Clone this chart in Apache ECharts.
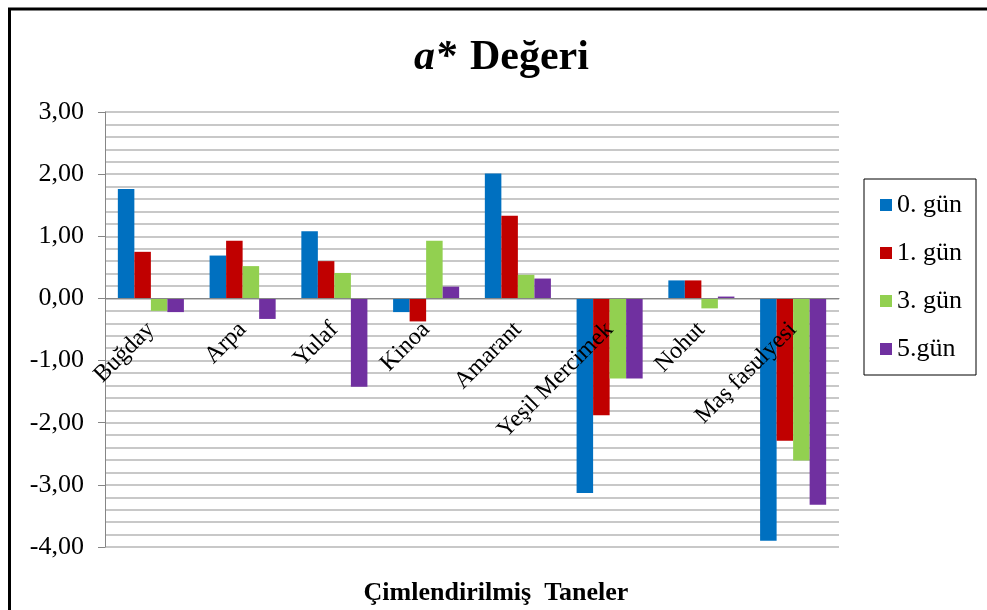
<!DOCTYPE html>
<html>
<head>
<meta charset="utf-8">
<script src="https://cdn.jsdelivr.net/npm/echarts@6/dist/echarts.min.js"></script>
<style>
  html, body { margin: 0; padding: 0; background: #fff; }
  #chart { width: 987px; height: 610px; }
</style>
</head>
<body>
<div id="chart"></div>
<script>
// a* değeri, çimlendirilmiş taneler
var categories = ['Buğday', 'Arpa', 'Yulaf', 'Kinoa', 'Amarant', 'Yeşil Mercimek', 'Nohut', 'Maş fasulyesi']
var gun0 = [1.76, 0.69, 1.08, -0.22, 2.01, -3.13, 0.29, -3.90]
var gun1 = [0.75, 0.93, 0.60, -0.37, 1.33, -1.88, 0.29, -2.29]
var gun3 = [-0.20, 0.52, 0.41, 0.93, 0.38, -1.29, -0.16, -2.61]
var gun5 = [-0.22, -0.33, -1.42, 0.19, 0.32, -1.29, 0.03, -3.32]
var seriesNames = ['0. gün', '1. gün', '3. gün', '5.gün']
var colors = ['#0070C0', '#C00000', '#92D050', '#7030A0']

var serif = "'Liberation Serif', 'Times New Roman', serif"
var chart = echarts.init(document.getElementById('chart'))

function barSeries(name, data, i) {
  return {
    name: name,
    type: 'bar',
    data: data,
    barGap: '0%',
    barCategoryGap: '28%',
    itemStyle: { color: colors[i] }
  }
}

chart.setOption({
  animation: false,
  backgroundColor: '#fff',
  title: [
    {
      text: '{i|a*}{b|Değeri}',
      left: 409,
      top: 32,
      textStyle: {
        rich: {
          i: { fontFamily: serif, fontSize: 42, fontStyle: 'italic', fontWeight: 'bold', color: '#000' },
          b: { fontFamily: serif, fontSize: 42, fontWeight: 'bold', color: '#000', padding: [0, 0, 0, 14] }
        }
      }
    },
    {
      text: 'Çimlendirilmiş  Taneler',
      left: 491,
      textAlign: 'center',
      top: 575,
      textStyle: { fontFamily: serif, fontSize: 26, fontWeight: 'bold', color: '#000' }
    }
  ],
  legend: {
    orient: 'vertical',
    left: 864,
    top: 179,
    padding: [13, 14, 13, 16],
    itemGap: 22,
    itemWidth: 12,
    itemHeight: 12,
    icon: 'rect',
    borderColor: '#000',
    borderWidth: 1,
    textStyle: { fontFamily: serif, fontSize: 26, color: '#000' },
    data: seriesNames
  },
  grid: {
    left: 105,
    right: 148,
    top: 112,
    bottom: 63,
    outerBoundsMode: 'none'
  },
  xAxis: {
    type: 'category',
    data: categories,
    z: 5,
    // category axis sits on the zero line (4 of 7 units up from the bottom)
    offset: -249,
    axisLine: { onZero: false, lineStyle: { color: '#868686', width: 1 } },
    axisTick: { show: false },
    axisLabel: {
      rotate: 45,
      interval: 0,
      margin: 28,
      fontFamily: serif,
      fontSize: 24,
      color: '#000'
    }
  },
  yAxis: {
    type: 'value',
    min: -4,
    max: 3,
    interval: 1,
    axisLine: { show: true, lineStyle: { color: '#868686', width: 1 } },
    axisTick: { show: true, length: 7, lineStyle: { color: '#868686' } },
    axisLabel: {
      margin: 21,
      fontFamily: serif,
      fontSize: 26,
      color: '#000',
      formatter: function (v) { return v.toFixed(2).replace('.', ',') }
    },
    splitLine: { show: true, lineStyle: { color: '#c8c8c8', width: 2 } },
    minorTick: { show: false, splitNumber: 5 },
    minorSplitLine: { show: true, lineStyle: { color: '#c8c8c8', width: 2 } }
  },
  graphic: [
    {
      type: 'polyline',
      shape: { points: [[9.5, 610], [9.5, 9], [987, 9]] },
      style: { stroke: '#000', lineWidth: 3, fill: null }
    }
  ],
  series: [
    barSeries(seriesNames[0], gun0, 0),
    barSeries(seriesNames[1], gun1, 1),
    barSeries(seriesNames[2], gun3, 2),
    barSeries(seriesNames[3], gun5, 3)
  ]
})
</script>
</body>
</html>
